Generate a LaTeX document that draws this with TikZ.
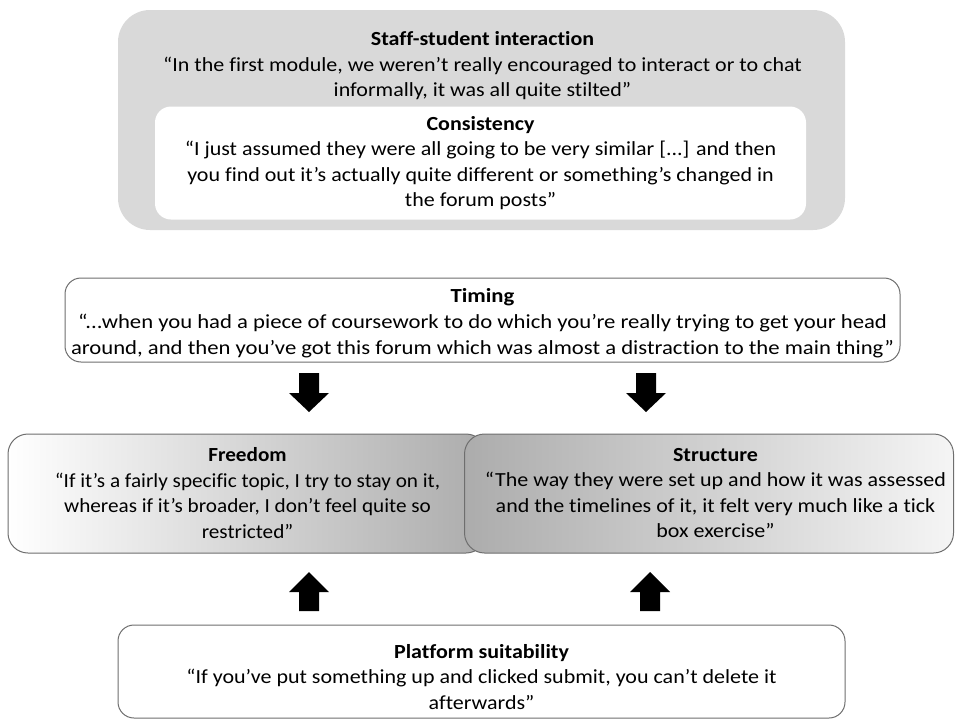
\documentclass[tikz,border=0pt]{standalone}
\usepackage{fontspec}
\setmainfont{Carlito}[Ligatures=NoCommon, FakeStretch=1.10]
\newfontfamily\timingfont{Carlito}[Ligatures=NoCommon, FakeStretch=1.135]
\newfontfamily\freedomfont{Carlito}[Ligatures=NoCommon, FakeStretch=1.06]
\definecolor{outergray}{HTML}{D9D9D9}
\definecolor{edgegray}{HTML}{6E6E6E}
\definecolor{graddark}{HTML}{ACACAC}
\begin{document}
\begin{tikzpicture}[x=1pt,y=-1pt,
  every node/.style={font=\fontsize{20}{25.5}\selectfont, align=center, inner sep=0pt},
  box/.style={draw=edgegray, line width=1pt, rounded corners=16pt, fill=white},
  blockarrow/.style={fill=black}]
\useasboundingbox (0,0) rectangle (956,720);
% top group
\node[fill=outergray, rounded corners=32pt, minimum width=727pt, minimum height=220pt] (outer) at (481.5,120) {};
\node (staff) at (482.5,66) {\textbf{Staff-student interaction}\\“In the first module, we weren’t really encouraged to interact or to chat\\informally, it was all quite stilted”};
\node[fill=white, rounded corners=16pt, minimum width=651pt, minimum height=113pt] (cons) at (480.5,163) {\textbf{Consistency}\\“I just assumed they were all going to be very similar [...] and then\\you find out it’s actually quite different or something’s changed in\\the forum posts”};
% timing
\node[box, minimum width=835pt, minimum height=84pt] (timing) at (482.5,320) {};
\node[font=\timingfont\fontsize{20}{26}\selectfont] (timingtext) at (482.5,323) {\textbf{Timing}\\“...when you had a piece of coursework to do which you’re really trying to get your head\\around, and then you’ve got this forum which was almost a distraction to the main thing”};
% freedom / structure
\node[box, rounded corners=20pt, left color=white, right color=graddark, minimum width=478pt, minimum height=119pt] (freedom) at (247,493.5) {};
\node[box, rounded corners=20pt, left color=graddark, right color=white!96!black, minimum width=489pt, minimum height=119pt] (structure) at (709,493.5) {};
\node[font=\freedomfont\fontsize{20}{25.5}\selectfont] (freedomtext) at (247.5,493) {\textbf{Freedom}\\“If it’s a fairly specific topic, I try to stay on it,\\whereas if it’s broader, I don’t feel quite so\\restricted”};
\node (structuretext) at (715.5,493) {\textbf{Structure}\\“The way they were set up and how it was assessed\\and the timelines of it, it felt very much like a tick\\box exercise”};
% platform
\node[box, minimum width=727pt, minimum height=93pt] (platform) at (481.5,671.5) {};
\node (platformtext) at (481.5,677) {\textbf{Platform suitability}\\“If you’ve put something up and clicked submit, you can’t delete it\\afterwards”};
% block arrows down (timing -> freedom / structure)
\foreach \cx in {309,646}{
  \fill[blockarrow] (\cx-10,373) -- (\cx+10,373) -- (\cx+10,393) -- (\cx+20,393) -- (\cx,412) -- (\cx-20,393) -- (\cx-10,393) -- cycle;
}
% block arrows up (platform -> freedom / structure)
\foreach \cx in {309,650}{
  \fill[blockarrow] (\cx-10,611) -- (\cx+10,611) -- (\cx+10,592) -- (\cx+20,592) -- (\cx,572) -- (\cx-20,592) -- (\cx-10,592) -- cycle;
}
\end{tikzpicture}
\end{document}
